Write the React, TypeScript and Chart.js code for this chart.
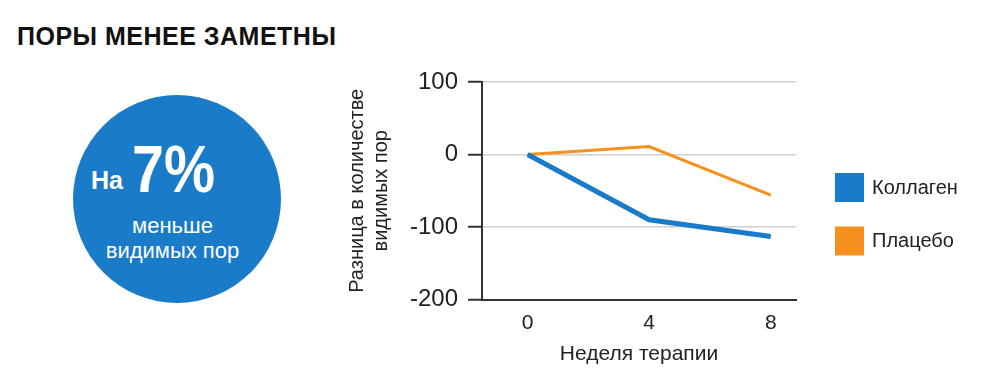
import React, { useEffect, useRef } from "react";
import { Chart, registerables } from "chart.js";

Chart.register(...registerables);

const weeks = [0, 4, 8];
const collagen = [0, -90, -113];
const placebo = [0, 11, -56];
const seriesNames = ["Коллаген", "Плацебо"];
const seriesColors = ["#1a7bc9", "#f7901e"];
const yTicks = [-200, -100, 0, 100];

const FONT = "'Liberation Sans', Arial, Helvetica, sans-serif";

const legendPlugin = {
  id: "sideLegend",
  afterDraw(chart: any) {
    const ctx = chart.ctx;
    const area = chart.chartArea;
    ctx.save();
    chart.data.datasets.forEach((ds: any, i: number) => {
      const x = area.right + 39;
      const y = 173 + i * 53.5;
      ctx.fillStyle = ds.borderColor;
      ctx.fillRect(x, y, 29, 29);
      ctx.fillStyle = "#222";
      ctx.font = `20px ${FONT}`;
      ctx.textBaseline = "middle";
      ctx.textAlign = "left";
      ctx.fillText(ds.label, x + 37, y + 15);
    });
    ctx.restore();
  },
};

export default function App() {
  const ref = useRef<HTMLCanvasElement | null>(null);

  useEffect(() => {
    if (!ref.current) return;
    const chart = new Chart(ref.current, {
      type: "line",
      data: {
        datasets: [
          {
            label: seriesNames[0],
            data: weeks.map((w, i) => ({ x: w, y: collagen[i] })),
            borderColor: seriesColors[0],
            backgroundColor: seriesColors[0],
            borderWidth: 5,
            pointRadius: 0,
            tension: 0,
          },
          {
            label: seriesNames[1],
            data: weeks.map((w, i) => ({ x: w, y: placebo[i] })),
            borderColor: seriesColors[1],
            backgroundColor: seriesColors[1],
            borderWidth: 3,
            pointRadius: 0,
            tension: 0,
          },
        ],
      },
      options: {
        animation: false,
        responsive: false,
        maintainAspectRatio: false,
        layout: { padding: { left: 340, right: 194, top: 82, bottom: 20 } },
        plugins: {
          legend: { display: false },
          tooltip: { enabled: false },
        },
        scales: {
          x: {
            type: "linear",
            min: -1.5,
            max: 8.83,
            afterBuildTicks: (scale: any) => {
              scale.ticks = weeks.map((v) => ({ value: v }));
            },
            grid: { display: false, drawTicks: false },
            border: { display: true, color: "#333", width: 2 },
            ticks: {
              color: "#222",
              font: { family: FONT, size: 21 },
              padding: 11,
              callback: (v: any) => String(v),
            },
            title: {
              display: true,
              text: "Неделя терапии",
              color: "#222",
              font: { family: FONT, size: 21 },
              padding: { top: -5, bottom: 2 },
            },
          },
          y: {
            min: -200,
            max: 100,
            afterBuildTicks: (scale: any) => {
              scale.ticks = yTicks.map((v) => ({ value: v }));
            },
            grid: {
              color: "#cfcfcf",
              lineWidth: 1.5,
              drawTicks: true,
              tickLength: 14,
              tickColor: "#333",
              tickWidth: 2,
            },
            border: { display: true, color: "#333", width: 2 },
            ticks: {
              color: "#222",
              font: { family: FONT, size: 24 },
              padding: 10,
            },
            title: {
              display: true,
              text: ["Разница в количестве", "видимых пор"],
              color: "#222",
              font: { family: FONT, size: 20, lineHeight: 1.2 },
              padding: { top: 5, bottom: 7 },
            },
          },
        },
      },
      plugins: [legendPlugin],
    });
    return () => chart.destroy();
  }, []);

  const abs = (o: any) => ({ position: "absolute", whiteSpace: "nowrap", ...o } as React.CSSProperties);

  return (
    <div style={abs({ left: 0, top: 0, width: 990, height: 389, fontFamily: FONT, background: "#fff" })}>
      <div style={abs({ left: 17, top: 24, fontSize: 25, lineHeight: "25px", letterSpacing: "0.5px", fontWeight: 700, color: "#111" })}>
        ПОРЫ МЕНЕЕ ЗАМЕТНЫ
      </div>
      <div
        style={abs({
          left: 73,
          top: 95,
          width: 208,
          height: 208,
          borderRadius: "50%",
          background: "#1a7bc9",
        })}
      />
      <div style={abs({ left: 91, top: 168, fontSize: 25, lineHeight: "25px", fontWeight: 700, color: "#fff" })}>На</div>
      <div
        style={abs({
          left: 132,
          top: 136,
          fontSize: 66,
          lineHeight: "66px",
          fontWeight: 700,
          color: "#fff",
          transform: "scaleX(0.87)",
          transformOrigin: "0 0",
        })}
      >
        7%
      </div>
      <div style={abs({ left: 72.5, width: 200, textAlign: "center", top: 215, fontSize: 22, lineHeight: "22px", color: "#fff" })}>
        меньше
      </div>
      <div style={abs({ left: 72.5, width: 200, textAlign: "center", top: 240, fontSize: 22, lineHeight: "22px", color: "#fff" })}>
        видимых пор
      </div>
      <canvas ref={ref} width={990} height={389} style={abs({ left: 0, top: 0, width: 990, height: 389 })} />
    </div>
  );
}
